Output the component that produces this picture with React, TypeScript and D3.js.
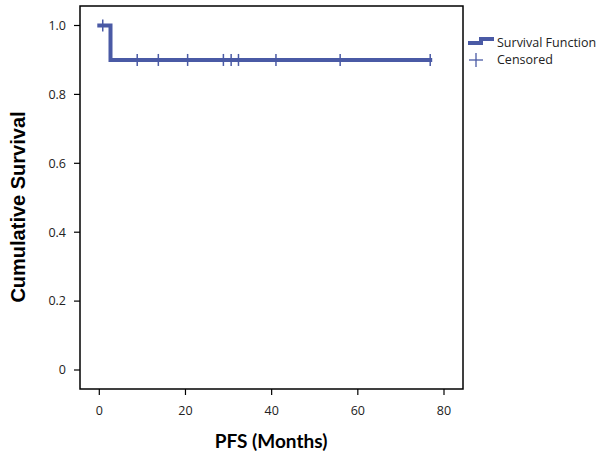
import React from "react";
import * as d3 from "d3";

const stepTimes = [0, 2.6, 76.8];
const stepSurvival = [1.0, 0.9, 0.9];
const censorTimes = [0.8, 8.8, 13.7, 20.5, 28.8, 30.6, 32.3, 41.0, 55.9, 76.8];
const censorSurvival = [1.0, 0.9, 0.9, 0.9, 0.9, 0.9, 0.9, 0.9, 0.9, 0.9];
const xTicks = [0, 20, 40, 60, 80];
const yTicks = [0, 0.2, 0.4, 0.6, 0.8, 1.0];
const yTickLabels = ["0", "0.2", "0.4", "0.6", "0.8", "1.0"];
const legendLabels = ["Survival Function", "Censored"];

const COLOR = "#4a5aa5";
const W = 600, H = 459;
const L = 80, R = 463, T = 6, B = 389;

export default function App() {
  const x = d3.scaleLinear().domain([0, 80]).range([99.3, 444]);
  const y = d3.scaleLinear().domain([0, 1]).range([370, 25.5]);
  const pts: [number, number][] = stepTimes.map((t, i) => [x(t), y(stepSurvival[i])]);
  const line = d3.line<[number, number]>().curve(d3.curveStepAfter)(pts) || "";
  const tickFont = "'Open Sans', sans-serif";
  return (
    <svg width={W} height={H} style={{ position: "absolute", left: 0, top: 0, background: "#fff" }}>
      <rect x={0} y={0} width={W} height={H} fill="#fff" />
      <rect x={L} y={T} width={R - L} height={B - T} fill="none" stroke="#000" strokeWidth={1.5} />
      {yTicks.map((v, i) => (
        <g key={"y" + i}>
          <line x1={74} x2={L} y1={y(v)} y2={y(v)} stroke="#000" strokeWidth={1.2} />
          <text x={66} y={y(v)} dy="0.35em" textAnchor="end" fontFamily={tickFont} fontSize={12.5} fill="#222">
            {yTickLabels[i]}
          </text>
        </g>
      ))}
      {xTicks.map((v) => (
        <g key={"x" + v}>
          <line x1={x(v)} x2={x(v)} y1={B} y2={395} stroke="#000" strokeWidth={1.2} />
          <text x={x(v)} y={411} dy="0.35em" textAnchor="middle" fontFamily={tickFont} fontSize={12.5} fill="#222">
            {v}
          </text>
        </g>
      ))}
      <path d={line} fill="none" stroke={COLOR} strokeWidth={4} strokeLinecap="square" />
      {censorTimes.map((t, i) => (
        <line key={"c" + i} x1={x(t)} x2={x(t)} y1={y(censorSurvival[i]) - 6} y2={y(censorSurvival[i]) + 6} stroke={COLOR} strokeWidth={1.5} />
      ))}
      <text transform={`translate(25,207) rotate(-90)`} textAnchor="middle" fontFamily="'Liberation Sans', Arial, sans-serif" fontWeight="bold" fontSize={20} fill="#000">
        Cumulative Survival
      </text>
      <text x={271} y={448} textAnchor="middle" fontFamily="Lato, 'Open Sans', sans-serif" fontWeight="bold" fontSize={19} fill="#000">
        PFS (Months)
      </text>
      <path d="M468,43 H481 V39 H494" fill="none" stroke={COLOR} strokeWidth={4} />
      <text x={497} y={43} dy="0.35em" fontFamily={tickFont} fontSize={12.5} fill="#222">{legendLabels[0]}</text>
      <line x1={469} x2={483} y1={60} y2={60} stroke={COLOR} strokeWidth={1.3} />
      <line x1={476} x2={476} y1={53} y2={67} stroke={COLOR} strokeWidth={1.3} />
      <text x={497} y={60} dy="0.35em" fontFamily={tickFont} fontSize={12.5} fill="#222">{legendLabels[1]}</text>
    </svg>
  );
}
